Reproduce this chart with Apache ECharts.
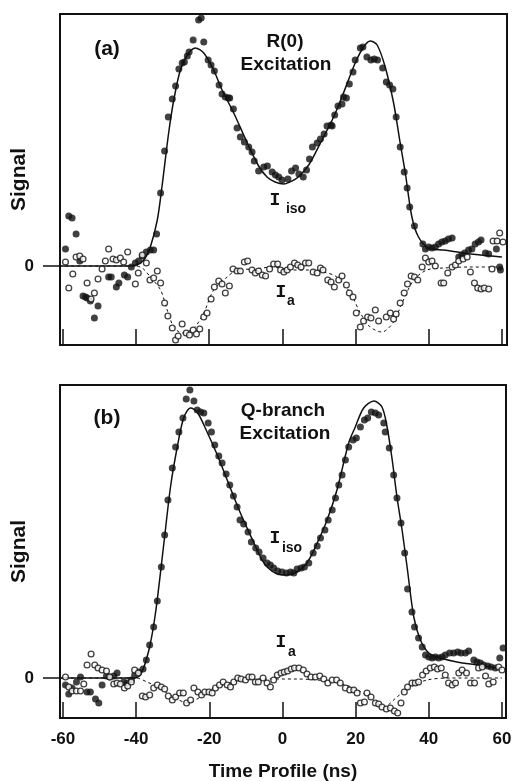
<!DOCTYPE html>
<html>
<head>
<meta charset="utf-8">
<script src="https://cdn.jsdelivr.net/npm/echarts@6/dist/echarts.min.js"></script>
<style>
  html, body { margin: 0; padding: 0; background: #fff; }
  #chart { width: 514px; height: 781px; }
</style>
</head>
<body>
<div id="chart"></div>
<script>
// Time axis (ns) ticks shared by both panels
const timeTicks = [-60, -40, -20, 0, 20, 40, 60];
const signalTicks = [0];

// Panel (a): R(0) excitation — isotropic signal (filled dots) and its fit
const isoA = [
  [-59.3,0.17],[-58.4,0.50],[-57.5,0.48],[-56.4,0.32],[-55.4,0.05],[-54.5,-0.30],[-53.8,-0.31],[-53.4,-0.32],
  [-52.5,-0.35],[-51.4,-0.52],[-50.4,-0.40],[-47.5,-0.11],[-46.8,-0.11],[-45.4,-0.21],[-44.7,-0.17],[-43.2,-0.09],
  [-42.3,-0.11],[-41.3,-0.01],[-40.2,0.03],[-39.3,0.05],[-38.3,0.10],[-37.2,0.14],[-36.1,0.16],[-35.2,0.16],
  [-34.4,0.32],[-33.3,0.73],[-32.2,1.15],[-31.2,1.49],[-30.1,1.67],[-29.2,1.80],[-28.3,1.97],[-27.4,2.03],
  [-26.8,2.04],[-26.0,2.10],[-25.5,2.14],[-24.4,2.26],[-22.9,2.46],[-22.2,2.48],[-21.5,2.24],[-20.3,2.06],
  [-19.5,2.01],[-18.6,1.95],[-17.3,1.81],[-16.5,1.72],[-15.6,1.69],[-14.8,1.68],[-14.4,1.68],[-13.4,1.57],
  [-12.4,1.38],[-11.5,1.29],[-10.4,1.24],[-9.2,1.19],[-8.3,1.14],[-7.7,1.05],[-6.5,0.95],[-5.1,0.99],
  [-4.1,1.00],[-2.8,0.94],[-1.9,0.91],[-1.0,0.89],[-0.1,0.86],[1.5,0.87],[2.5,0.95],[3.6,0.98],
  [4.5,0.92],[5.7,0.89],[6.6,0.96],[7.4,1.07],[8.2,1.19],[9.5,1.23],[10.4,1.27],[11.4,1.32],
  [12.2,1.40],[13.3,1.41],[13.6,1.40],[14.3,1.51],[15.2,1.60],[16.3,1.62],[16.7,1.69],[17.5,1.68],
  [18.3,1.82],[19.3,1.94],[19.9,2.06],[21.3,2.18],[22.0,2.19],[23.1,2.09],[24.2,2.06],[25.1,2.07],
  [26.0,2.06],[27.4,1.98],[28.4,1.84],[29.3,1.81],[30.2,1.77],[31.1,1.49],[32.2,1.19],[33.3,0.94],
  [34.1,0.78],[34.8,0.59],[36.1,0.40],[38.4,0.22],[39.1,0.17],[40.0,0.19],[40.9,0.18],[41.8,0.19],
  [42.7,0.22],[43.6,0.24],[44.5,0.25],[45.4,0.27],[46.4,0.28],[48.2,0.09],[49.1,0.11],[49.8,0.13],
  [50.9,0.16],[51.8,0.17],[52.7,0.22],[53.6,0.24],[54.3,0.26],[55.5,0.13],[56.4,0.12],[58.5,0.17],
  [59.4,-0.01],[59.6,-0.04]
];
const isoFitA = [
  [-61,0],[-42,0],[-40,0.01],[-38.8,0.03],[-37.5,0.08],[-36.1,0.19],[-34.2,0.46],[-32.9,0.80],[-31.1,1.33],
  [-29.7,1.66],[-27.9,1.96],[-26.0,2.11],[-23.8,2.18],[-21.5,2.13],[-18.8,1.96],[-16.5,1.76],[-13.3,1.53],
  [-9.6,1.23],[-6.5,1.00],[-4.2,0.89],[-2.0,0.84],[0.4,0.82],[2.0,0.84],[4.0,0.88],[7.2,1.01],[10.4,1.23],
  [14.0,1.49],[16.7,1.73],[19.9,2.03],[22.2,2.19],[24.0,2.25],[25.9,2.21],[28.1,1.99],[30.4,1.63],[32.2,1.23],
  [33.6,0.93],[35.4,0.49],[37.2,0.29],[40.0,0.18],[44.1,0.16],[51.4,0.12],[60,0.09]
];
// Panel (a): anisotropic signal (open circles) and its fit
const anisoA = [
  [-59.3,0.04],[-58.4,-0.22],[-57.3,-0.08],[-56.4,0.09],[-55.4,0.10],[-54.5,0.07],[-53.4,-0.17],[-52.3,-0.33],
  [-51.4,-0.27],[-50.4,-0.13],[-49.3,-0.03],[-48.4,0.05],[-47.5,0.17],[-46.3,0.07],[-45.4,0.06],[-44.3,0.08],
  [-43.4,0.04],[-42.3,0.14],[-40.2,-0.18],[-39.4,-0.07],[-38.3,0.11],[-37.2,0.03],[-36.2,-0.14],[-35.2,-0.12],
  [-34.2,-0.05],[-33.3,-0.17],[-32.2,-0.37],[-31.3,-0.50],[-30.1,-0.62],[-29.2,-0.74],[-28.5,-0.70],[-27.4,-0.58],
  [-26.3,-0.67],[-25.4,-0.69],[-24.4,-0.64],[-23.5,-0.68],[-22.6,-0.63],[-21.5,-0.51],[-20.6,-0.47],[-19.5,-0.33],
  [-18.6,-0.21],[-17.4,-0.15],[-16.5,-0.18],[-15.6,-0.27],[-14.5,-0.20],[-13.5,-0.03],[-12.4,-0.05],[-11.5,-0.05],
  [-10.4,0.04],[-9.5,0.05],[-8.3,-0.04],[-7.4,-0.07],[-6.5,-0.05],[-5.5,-0.09],[-4.6,-0.10],[-3.5,-0.03],
  [-2.4,0.02],[-1.3,0.02],[-0.5,-0.04],[0.4,-0.06],[1.3,-0.04],[2.2,-0.01],[3.3,0.03],[4.2,0.01],
  [5.1,-0.01],[6.3,0.03],[7.2,0.03],[8.4,-0.06],[9.5,-0.07],[10.4,-0.02],[11.1,-0.04],[12.4,-0.14],
  [13.3,-0.16],[14.2,-0.21],[15.4,-0.14],[16.3,-0.10],[17.5,-0.19],[18.3,-0.27],[19.3,-0.31],[20.2,-0.47],
  [21.3,-0.61],[22.2,-0.55],[23.3,-0.51],[24.2,-0.52],[25.4,-0.44],[26.3,-0.55],[28.4,-0.51],[29.5,-0.47],
  [30.4,-0.53],[31.1,-0.48],[32.2,-0.37],[33.3,-0.27],[34.2,-0.18],[35.2,-0.10],[36.1,-0.11],[37.0,-0.14],
  [38.2,-0.01],[39.1,0.08],[40.0,0.04],[40.9,0.05],[41.8,0.00],[43.4,-0.17],[44.1,-0.17],[45.2,-0.07],
  [46.4,-0.01],[47.3,0.01],[48.2,0.05],[49.4,0.07],[50.5,0.09],[51.4,-0.06],[52.5,-0.17],[53.4,-0.22],
  [54.3,-0.23],[55.2,-0.22],[56.4,-0.23],[57.3,-0.03],[57.6,0.25],[58.7,0.25],[59.4,0.33],[60.3,0.24]
];
const anisoFitA = [
  [-61,0],[-40,0],[-38,-0.03],[-36.1,-0.11],[-33.3,-0.24],[-31.5,-0.44],[-29.7,-0.61],[-27.4,-0.67],
  [-24.2,-0.62],[-21.5,-0.47],[-18.8,-0.24],[-15.1,-0.11],[-12.4,-0.04],[-7.8,-0.03],[-2.4,-0.01],[2.2,-0.04],
  [7.7,-0.04],[11.3,-0.06],[14.9,-0.11],[18.6,-0.27],[21.3,-0.47],[24.0,-0.61],[27.2,-0.66],[30.4,-0.56],
  [32.7,-0.37],[35.9,-0.14],[39.5,-0.04],[44.1,-0.02],[51.4,-0.01],[60,-0.01]
];

// Panel (b): Q-branch excitation
const isoB = [
  [-59.3,-0.07],[-58.4,-0.16],[-57.5,-0.10],[-56.3,-0.04],[-55.2,0.01],[-53.4,-0.14],[-52.5,-0.14],[-51.1,-0.21],
  [-50.2,-0.25],[-49.3,-0.07],[-48.1,0.02],[-47.2,0.01],[-46.1,0.02],[-45.2,0.05],[-43.4,-0.04],[-42.4,-0.05],
  [-41.3,-0.02],[-40.4,0.03],[-39.3,0.06],[-38.1,0.09],[-37.2,0.18],[-36.3,0.33],[-35.2,0.51],[-34.2,0.77],
  [-33.1,1.11],[-32.2,1.43],[-31.3,1.78],[-30.1,2.10],[-29.2,2.31],[-28.3,2.46],[-27.2,2.60],[-26.3,2.79],
  [-25.3,2.88],[-24.2,2.77],[-23.3,2.68],[-22.4,2.66],[-21.5,2.65],[-20.3,2.55],[-19.4,2.46],[-18.5,2.33],
  [-17.4,2.22],[-16.5,2.15],[-15.4,2.04],[-14.4,1.93],[-13.4,1.82],[-12.4,1.71],[-11.6,1.58],[-10.6,1.54],
  [-9.4,1.46],[-8.5,1.36],[-7.3,1.30],[-6.4,1.26],[-5.3,1.20],[-4.2,1.15],[-3.3,1.13],[-2.4,1.10],
  [-1.3,1.07],[-0.1,1.06],[1.1,1.05],[2.2,1.06],[3.1,1.05],[4.0,1.09],[5.1,1.10],[6.0,1.11],
  [7.2,1.15],[8.4,1.25],[9.5,1.32],[10.4,1.40],[11.6,1.48],[12.5,1.58],[13.6,1.68],[14.5,1.80],
  [15.4,1.93],[16.3,2.03],[17.2,2.18],[18.1,2.31],[19.3,2.38],[20.2,2.40],[21.3,2.51],[22.4,2.58],
  [23.3,2.60],[24.3,2.66],[25.4,2.65],[26.3,2.63],[27.7,2.55],[28.1,2.46],[29.2,2.30],[30.4,2.03],
  [31.3,1.80],[32.4,1.55],[33.4,1.25],[34.2,0.89],[35.4,0.66],[36.1,0.51],[37.2,0.40],[38.2,0.31],
  [39.1,0.23],[40.0,0.21],[40.9,0.20],[41.8,0.21],[42.7,0.20],[43.6,0.21],[44.5,0.23],[45.7,0.25],
  [46.8,0.25],[47.9,0.26],[48.8,0.25],[50.0,0.25],[50.9,0.27],[52.3,0.18],[53.2,0.16],[54.1,0.15],
  [55.0,0.13],[56.1,0.12],[57.0,0.11],[58.2,0.10],[59.4,0.20],[60.3,0.30]
];
const isoFitB = [
  [-61,0],[-43,0],[-40.5,0.0],[-38.8,0.03],[-36.5,0.28],[-34.7,0.65],[-32.4,1.35],[-30.6,1.91],[-28.8,2.30],
  [-27.0,2.60],[-25.1,2.70],[-23.3,2.66],[-20.6,2.46],[-17.8,2.23],[-15.1,1.98],[-11.5,1.65],[-7.8,1.35],
  [-6.0,1.21],[-4.2,1.11],[-1.4,1.04],[1.3,1.03],[4.0,1.06],[6.7,1.15],[9.5,1.35],[12.2,1.58],[14.9,1.88],
  [18.1,2.35],[19.9,2.51],[22.2,2.70],[25.0,2.77],[27.2,2.71],[28.6,2.51],[30.0,2.18],[31.3,1.81],[32.7,1.48],
  [34.1,1.10],[35.9,0.61],[37.7,0.38],[40.0,0.25],[43.2,0.20],[47.7,0.16],[53.2,0.13],[58.7,0.10],[60,0.09]
];
const anisoB = [
  [-59.3,0.01],[-58.4,-0.09],[-57.5,-0.13],[-56.3,-0.13],[-55.2,-0.13],[-54.3,-0.06],[-53.4,0.13],[-52.3,0.24],
  [-51.3,0.13],[-50.4,0.10],[-49.3,0.08],[-48.1,0.07],[-47.2,0.01],[-46.1,-0.06],[-45.2,-0.05],[-44.3,-0.06],
  [-43.2,-0.10],[-42.3,-0.08],[-41.3,-0.04],[-40.4,0.08],[-39.4,0.05],[-38.3,-0.18],[-37.4,-0.19],[-36.3,-0.17],
  [-35.2,-0.10],[-34.2,-0.07],[-33.1,-0.09],[-32.2,-0.11],[-31.2,-0.18],[-30.1,-0.22],[-29.2,-0.19],[-28.1,-0.15],
  [-27.1,-0.15],[-26.2,-0.25],[-25.1,-0.22],[-24.2,-0.10],[-23.1,-0.14],[-22.1,-0.17],[-21.2,-0.14],[-20.1,-0.14],
  [-19.2,-0.15],[-18.3,-0.10],[-17.2,-0.07],[-16.2,-0.04],[-15.1,-0.07],[-14.2,-0.09],[-13.3,-0.04],[-12.2,0.00],
  [-11.3,-0.01],[-10.1,-0.02],[-9.2,0.01],[-8.3,0.01],[-7.4,-0.04],[-6.6,-0.04],[-5.3,0.00],[-4.2,-0.05],
  [-3.3,-0.09],[-2.4,-0.02],[-1.4,0.03],[-0.4,0.05],[0.5,0.06],[1.4,0.07],[2.4,0.09],[3.3,0.10],
  [4.5,0.10],[5.7,0.08],[6.7,0.04],[7.8,0.01],[9.0,0.01],[10.2,0.02],[11.3,-0.01],[12.4,-0.05],
  [13.6,-0.02],[14.8,-0.02],[15.8,-0.05],[17.2,-0.10],[18.4,-0.12],[19.5,-0.12],[20.4,-0.15],[21.3,-0.25],
  [22.4,-0.24],[23.1,-0.15],[24.2,-0.19],[25.4,-0.25],[26.3,-0.26],[27.2,-0.29],[28.4,-0.31],[29.5,-0.30],
  [30.6,-0.33],[31.5,-0.35],[32.4,-0.25],[33.3,-0.14],[34.2,-0.09],[35.4,-0.05],[36.3,-0.05],[37.2,-0.04],
  [38.3,0.03],[39.3,0.07],[40.4,0.10],[41.5,0.11],[42.4,0.09],[43.4,0.10],[44.5,0.03],[45.4,-0.05],
  [46.4,-0.07],[47.3,-0.05],[48.2,0.05],[49.1,0.08],[50.3,0.05],[51.4,-0.05],[52.5,-0.05],[53.6,0.10],
  [54.6,0.11],[55.5,0.02],[56.4,-0.06],[57.6,-0.04],[59.1,0.11],[60.0,0.08]
];
const anisoFitB = [
  [-61,0],[-40,0],[-37,-0.04],[-34.2,-0.09],[-29.7,-0.19],[-26.0,-0.25],[-22.4,-0.19],[-18.8,-0.10],
  [-13.3,-0.04],[-7.8,-0.01],[4.0,-0.01],[14.0,-0.04],[19.5,-0.10],[24.0,-0.20],[27.7,-0.29],[31.3,-0.19],
  [35.0,-0.09],[39.5,-0.02],[45.9,0],[60,0]
];

const INK = '#111';
const FONT = '"Liberation Sans", Arial, Helvetica, sans-serif';
const MONO = '"Liberation Mono", "Courier New", monospace';

const chart = echarts.init(document.getElementById('chart'), null, { renderer: 'canvas' });

function xAxisFor(gridIndex, max, withLabels) {
  return {
    gridIndex, type: 'value', min: -60.8, max, position: 'bottom',
    axisLine: { show: false, onZero: false }, splitLine: { show: false },
    axisTick: { inside: true, length: 16, customValues: timeTicks, lineStyle: { color: INK, width: 1.5 } },
    axisLabel: withLabels
      ? { customValues: timeTicks, fontFamily: FONT, fontWeight: 'bold', fontSize: 17, color: INK, margin: 13 }
      : { show: false },
    name: withLabels ? 'Time Profile (ns)' : '',
    nameLocation: 'middle', nameGap: 44,
    nameTextStyle: { fontFamily: FONT, fontWeight: 'bold', fontSize: 19, color: INK }
  };
}
function yAxisFor(gridIndex, min, max) {
  return {
    gridIndex, type: 'value', min, max, position: 'left',
    axisLine: { show: false, onZero: false }, splitLine: { show: false },
    axisTick: { show: true, length: 17, customValues: signalTicks, lineStyle: { color: INK, width: 1.5 } },
    axisLabel: { customValues: signalTicks, fontFamily: FONT, fontWeight: 'bold', fontSize: 17, color: INK, margin: 26 },
    name: 'Signal', nameLocation: 'middle', nameRotate: 90, nameGap: 30, nameMoveOverlap: false,
    nameTextStyle: { fontFamily: FONT, fontWeight: 'bold', fontSize: 21, color: INK }
  };
}
function dots(data, i) {
  return { type: 'scatter', xAxisIndex: i, yAxisIndex: i, data, symbol: 'circle', symbolSize: 7,
    itemStyle: { color: INK }, z: 4, silent: true };
}
function rings(data, i) {
  return { type: 'scatter', xAxisIndex: i, yAxisIndex: i, data, symbol: 'circle', symbolSize: 5.8,
    itemStyle: { color: '#fff', borderColor: INK, borderWidth: 1.3 }, z: 5, silent: true };
}
function fit(data, i, dashed) {
  return { type: 'line', xAxisIndex: i, yAxisIndex: i, data, showSymbol: false, smooth: 0.3,
    lineStyle: dashed ? { color: INK, width: 1, type: [3, 3] } : { color: INK, width: 1.5 },
    z: 3, silent: true };
}

function label(text, x, y, size, font, weight) {
  return { type: 'text', x, y, z: 10,
    style: { text, fill: INK, font: `${weight || 'bold'} ${size}px ${font || FONT}`, align: 'center', verticalAlign: 'middle' } };
}

chart.setOption({
  animation: false,
  backgroundColor: '#fff',
  grid: [
    { left: 60, top: 14, width: 447, height: 331, outerBoundsMode: 'none', containLabel: false,
      show: true, borderColor: INK, borderWidth: 2, backgroundColor: 'transparent' },
    { left: 60, top: 385, width: 446, height: 333, outerBoundsMode: 'none', containLabel: false,
      show: true, borderColor: INK, borderWidth: 2, backgroundColor: 'transparent' }
  ],
  xAxis: [xAxisFor(0, 61.4, false), xAxisFor(1, 61.1, true)],
  yAxis: [yAxisFor(0, -0.79, 2.52), yAxisFor(1, -0.40, 2.93)],
  series: [
    fit(isoFitA, 0, false), fit(anisoFitA, 0, true), dots(isoA, 0), rings(anisoA, 0),
    fit(isoFitB, 1, false), fit(anisoFitB, 1, true), dots(isoB, 1), rings(anisoB, 1)
  ],
  graphic: [
    label('(a)', 107, 49, 21),
    label('R(0)', 285, 42, 19),
    label('Excitation', 286, 65, 19),
    label('I', 275, 200, 18, MONO),
    label('iso', 296, 209, 14),
    label('I', 281, 292, 18, MONO),
    label('a', 291, 301, 14),
    label('(b)', 107, 418, 21),
    label('Q-branch', 283, 411, 19),
    label('Excitation', 285, 434, 19),
    label('I', 275, 538, 18, MONO),
    label('iso', 292, 548, 14),
    label('I', 281, 642, 18, MONO),
    label('a', 292, 652, 14)
  ]
});
</script>
</body>
</html>
